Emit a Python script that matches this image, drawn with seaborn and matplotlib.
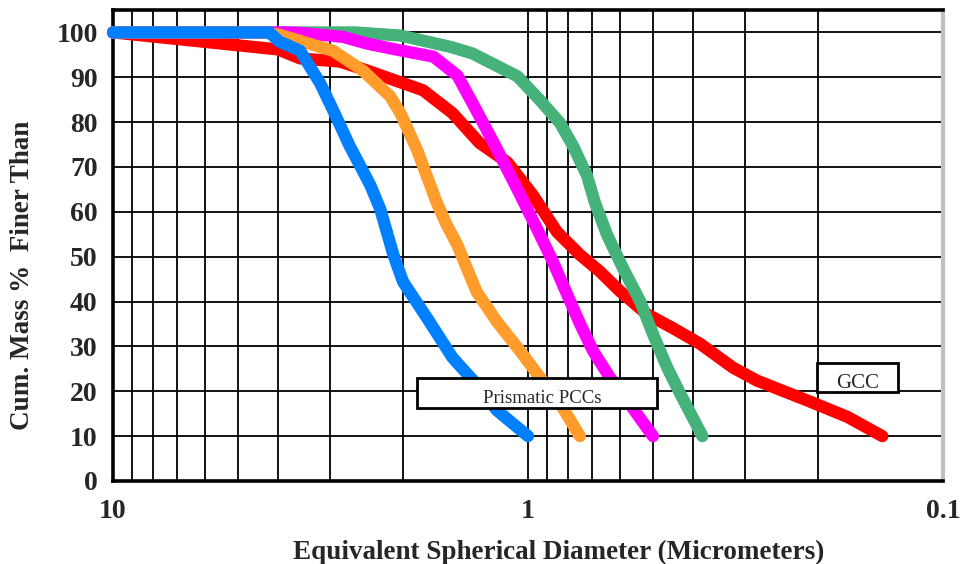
import matplotlib
matplotlib.use("Agg")
import matplotlib.pyplot as plt
import matplotlib.patches as mpatches
import matplotlib.ticker as mticker
import numpy as np
import pandas as pd
import seaborn as sns

# ---- data (diameter in micrometers, cumulative mass % finer) ----
red_d = [10.0, 4.0, 3.54, 2.84, 2.44, 1.79, 1.52, 1.31, 1.12, 0.973, 0.851, 0.749,
         0.671, 0.600, 0.517, 0.448, 0.385, 0.321, 0.281, 0.213, 0.170, 0.14]
red_y = [100, 96.2, 94.2, 93.5, 91.5, 87.1, 82.0, 75.4, 71.0, 63.7, 55.5, 50.4,
         46.7, 42.3, 37.2, 34.1, 30.6, 25.3, 22.4, 18.0, 14.3, 10]

green_d = [10.0, 2.6, 2.03, 1.54, 1.36, 1.06, 0.936, 0.837, 0.779, 0.721, 0.690,
           0.645, 0.590, 0.537, 0.500, 0.462, 0.430, 0.38]
green_y = [100, 100, 99.3, 96.8, 95.3, 90.2, 84.9, 79.8, 74.7, 68.1, 62.1,
           54.9, 47.4, 40.1, 32.8, 25.3, 19.5, 10]

magenta_d = [10.0, 3.8, 3.54, 2.79, 2.44, 2.03, 1.69, 1.48, 1.36, 1.21, 1.06, 0.951,
             0.871, 0.805, 0.749, 0.697, 0.635, 0.577, 0.50]
magenta_y = [100, 100, 99.9, 99.0, 97.5, 96.0, 94.6, 90.4, 84.2, 75.4, 65.0, 56.2,
             48.9, 41.6, 35.0, 29.0, 23.1, 18.0, 10]

orange_d = [10.0, 4.4, 3.98, 3.54, 2.95, 2.50, 2.15, 2.03, 1.85, 1.66, 1.57, 1.48,
            1.33, 1.19, 1.045, 0.936, 0.837, 0.75]
orange_y = [100, 100, 99.5, 98.1, 95.9, 91.5, 85.8, 82.0, 73.8, 62.1, 57.1, 52.6,
            42.2, 35.6, 29.0, 23.1, 17.3, 10]

blue_d = [10.0, 4.2, 3.98, 3.54, 3.17, 2.95, 2.69, 2.40, 2.27, 2.11, 2.0, 1.75,
          1.52, 1.31, 1.19, 1.0]
blue_y = [100, 100, 98.0, 95.9, 88.7, 82.7, 74.7, 66.0, 60.6, 50.4, 44.4, 36.3,
          27.5, 20.9, 15.8, 10]

series_names = ["GCC", "PCC D", "PCC C", "PCC B", "PCC A"]
series_colors = ["#FF0000", "#44B279", "#FF00FF", "#FF9C2C", "#0080FF"]

x_ticks = [10, 1, 0.1]
x_tick_labels = ["10", "1", "0.1"]
y_ticks = list(range(0, 101, 10))

frames = []
for name, d, y in zip(series_names,
                      [red_d, green_d, magenta_d, orange_d, blue_d],
                      [red_y, green_y, magenta_y, orange_y, blue_y]):
    frames.append(pd.DataFrame({"d": d, "pct": y, "series": name, "order": range(len(d))}))
df = pd.concat(frames, ignore_index=True)

sns.set_theme(style="white")
plt.rcParams["font.family"] = ["Liberation Serif", "DejaVu Serif"]

fig = plt.figure(figsize=(9.6, 5.64), dpi=100)
ax = fig.add_axes([113 / 960, 1 - 481 / 564, 830 / 960, 471 / 564])

ax.set_xscale("log")
ax.set_xlim(10, 0.1)
ax.set_ylim(0, 105)

ax.xaxis.set_major_locator(mticker.FixedLocator(x_ticks))
ax.xaxis.set_major_formatter(mticker.FixedFormatter(x_tick_labels))
ax.xaxis.set_minor_locator(mticker.LogLocator(base=10, subs=np.arange(2, 10)))
ax.xaxis.set_minor_formatter(mticker.NullFormatter())
ax.set_yticks(y_ticks)

ax.grid(True, which="both", axis="x", color="black", linewidth=1.3)
ax.grid(True, which="major", axis="y", color="black", linewidth=1.3)
ax.set_axisbelow(True)

for name, color in zip(series_names, series_colors):
    sub = df[df["series"] == name]
    sns.lineplot(data=sub, x="d", y="pct", sort=False, estimator=None, color=color,
                 linewidth=8.8, ax=ax, legend=False,
                 solid_capstyle="round", solid_joinstyle="round", clip_on=False,
                 zorder=3)

for side in ["left", "bottom", "top"]:
    ax.spines[side].set_color("black")
    ax.spines[side].set_linewidth(2.6)
ax.spines["right"].set_color("#C0C0C0")
ax.spines["right"].set_linewidth(3.0)

ax.tick_params(axis="both", which="both", length=0)
ax.tick_params(axis="y", pad=11)
ax.tick_params(axis="x", pad=13)
for lab in ax.get_xticklabels() + ax.get_yticklabels():
    lab.set_fontsize(20)
    lab.set_fontweight("bold")

ax.set_xlabel("")
ax.set_ylabel("")
fig.text(559 / 960, 1 - 552 / 564, "Equivalent Spherical Diameter (Micrometers)",
         ha="center", va="center", fontsize=19.5, fontweight="bold")
fig.text(23 / 960, 1 - 275 / 564, "Cum. Mass %  Finer Than", rotation=90,
         ha="center", va="center", fontsize=19.5, fontweight="bold")

# annotation boxes
box1 = mpatches.Rectangle((1.85, 16.2), 0.49 - 1.85, 22.9 - 16.2, fill=True,
                          facecolor="white", edgecolor="black", linewidth=2,
                          zorder=5)
ax.add_patch(box1)
ax.text(np.sqrt(1.85 * 0.49) * 0.97, 18.5, "Prismatic PCCs", ha="center", va="center",
        fontsize=13.5, zorder=6)

box2 = mpatches.Rectangle((0.2016, 19.8), 0.1286 - 0.2016, 26.4 - 19.8, fill=True,
                          facecolor="white", edgecolor="black", linewidth=2,
                          zorder=5)
ax.add_patch(box2)
ax.text(np.sqrt(0.2016 * 0.1286), 21.7, "GCC", ha="center", va="center",
        fontsize=15, zorder=6)

fig.savefig("out.png", dpi=100)
